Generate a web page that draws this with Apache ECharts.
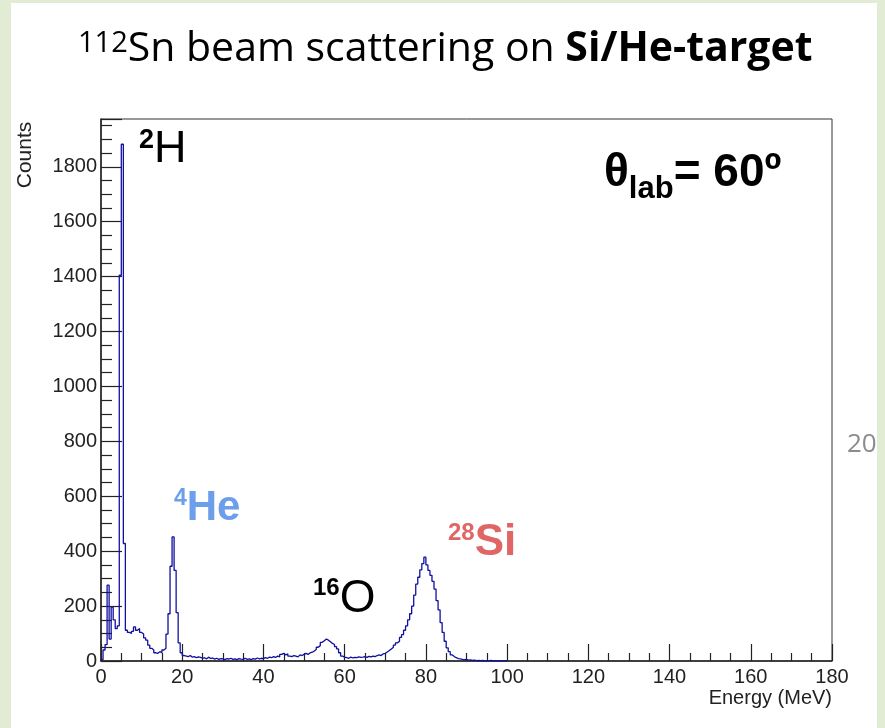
<!DOCTYPE html>
<html>
<head>
<meta charset="utf-8">
<title>112Sn beam scattering on Si/He-target</title>
<script src="https://cdn.jsdelivr.net/npm/echarts@6/dist/echarts.min.js"></script>
<style>
html, body { margin: 0; padding: 0; background: #fff; }
#chart { width: 885px; height: 728px; }
</style>
</head>
<body>
<div id="chart"></div>
<script>
// histogram, counts per 0.5 MeV bin starting at 0 MeV
const binWidth = 0.5
const counts = [
  5, 40, 60, 276, 80, 196, 150, 118, 128, 1405,          // 0 - 4.5
  1882, 428, 112, 104, 100, 108, 124, 112, 118, 104,     // 5 - 9.5
  98, 84, 76, 58, 46, 40, 30, 28, 34, 30,                // 10 - 14.5
  40, 46, 98, 172, 345, 452, 330, 176, 66, 30,           // 15 - 19.5
  20, 18, 16, 20, 14, 16, 12, 15, 13, 10,                // 20 - 24.5
  12, 8, 14, 9, 11, 7, 10, 6, 9, 8,                      // 25 - 29.5
  5, 9, 7, 10, 6, 8, 5, 9, 7, 6,                         // 30 - 34.5
  10, 6, 8, 5, 9, 7, 11, 8, 10, 9,                       // 35 - 39.5
  12, 10, 14, 12, 16, 13, 18, 15, 24, 28,                // 40 - 44.5
  22, 26, 18, 16, 20, 18, 15, 22, 20, 24,                // 45 - 49.5
  28, 24, 30, 32, 36, 42, 50, 56, 68, 74,                // 50 - 54.5
  80, 76, 70, 64, 60, 52, 44, 30, 18, 14,                // 55 - 59.5
  12, 10, 14, 11, 13, 12, 15, 13, 14, 16,                // 60 - 64.5
  13, 17, 15, 18, 16, 20, 22, 20, 26, 28,                // 65 - 69.5
  33, 38, 44, 50, 58, 66, 72, 86, 96, 112,               // 70 - 74.5
  128, 150, 172, 200, 240, 280, 305, 332, 355, 378,      // 75 - 79.5
  350, 330, 312, 290, 262, 220, 186, 140, 104, 72,       // 80 - 84.5
  48, 34, 22, 16, 12, 9, 8, 6, 5, 6,                     // 85 - 89.5
  3, 4, 2, 3, 1, 2, 1, 2, 0, 1,                          // 90 - 94.5
  0, 2, 0, 1, 0, 0, 0, 1, 0, 0                           // 95 - 99.5
]
const xRange = [0, 180]
const yRange = [0, 1974]

// step points at each bin's low edge, closed at the last upper edge
const histData = counts.map((c, i) => [i * binWidth, c])
histData.push([counts.length * binWidth, 0])

const axisColor = '#222'
const tickFont = { fontFamily: 'Liberation Sans', fontSize: 20, color: '#222' }

let myChart = echarts.init(document.getElementById('chart'))
myChart.setOption({
  backgroundColor: '#fff',
  animation: false,
  title: {
    text: '{sup|112}{n|Sn beam scattering on }{b|Si/He-target}',
    left: 78,
    top: 29,
    padding: 0,
    textStyle: {
      fontWeight: 'normal',
      rich: {
        sup: { fontFamily: 'Open Sans', fontWeight: 'normal', fontSize: 29, lineHeight: 32, verticalAlign: 'top', color: '#000' },
        n: { fontFamily: 'Open Sans', fontWeight: 'normal', fontSize: 41, lineHeight: 43, verticalAlign: 'top', color: '#000' },
        b: { fontFamily: 'Open Sans', fontWeight: 'bold', fontSize: 41, lineHeight: 43, verticalAlign: 'top', color: '#000' }
      }
    }
  },
  grid: {
    left: 101,
    top: 119,
    width: 731,
    height: 542,
    show: true,
    borderColor: '#333',
    borderWidth: 1,
    backgroundColor: 'transparent'
  },
  xAxis: {
    type: 'value',
    min: xRange[0],
    max: xRange[1],
    interval: 20,
    axisLine: { lineStyle: { color: axisColor, width: 1.5 } },
    axisTick: { inside: true, length: 17, lineStyle: { color: axisColor, width: 1.2 } },
    minorTick: { show: true, splitNumber: 4, length: 8, lineStyle: { color: axisColor, width: 1.2 } },
    axisLabel: Object.assign({ margin: 6, formatter: v => String(v) }, tickFont),
    splitLine: { show: false }
  },
  yAxis: {
    type: 'value',
    min: yRange[0],
    max: yRange[1],
    interval: 200,
    axisLine: { show: true, lineStyle: { color: axisColor, width: 1.5 } },
    axisTick: { show: true, inside: true, length: 21, lineStyle: { color: axisColor, width: 1.2 } },
    minorTick: { show: true, splitNumber: 4, length: 11, lineStyle: { color: axisColor, width: 1.2 } },
    axisLabel: Object.assign({ margin: 4, showMaxLabel: false, formatter: v => String(v) }, tickFont),
    splitLine: { show: false }
  },
  series: [
    {
      name: 'Counts',
      type: 'line',
      step: 'end',
      symbol: 'none',
      data: histData,
      lineStyle: { color: '#1010a0', width: 1.3 },
      z: 3
    }
  ],
  graphic: [
    // axis titles
    {
      type: 'text', x: 25, y: 155, rotation: Math.PI / 2,
      style: { text: 'Counts', align: 'center', verticalAlign: 'middle', fontFamily: 'Liberation Sans', fontSize: 21, fill: '#222' }
    },
    {
      type: 'text', x: 832, y: 698,
      style: { text: 'Energy (MeV)', align: 'right', verticalAlign: 'middle', fontFamily: 'Liberation Sans', fontSize: 20, fill: '#222' }
    },
    // peak labels
    {
      type: 'text', x: 139, y: 127,
      style: {
        text: '{s|2}{m|H}', verticalAlign: 'top',
        rich: {
          s: { fontFamily: 'Liberation Sans', fontWeight: 'bold', fontSize: 27, lineHeight: 30, verticalAlign: 'top', fill: '#000' },
          m: { fontFamily: 'Liberation Sans', fontSize: 45, lineHeight: 45, verticalAlign: 'top', fill: '#000' }
        }
      }
    },
    {
      type: 'text', x: 604, y: 150,
      style: {
        text: '{m|θ}{s|lab}{m|= 60º}', verticalAlign: 'top',
        rich: {
          m: { fontFamily: 'Liberation Sans', fontWeight: 'bold', fontSize: 46, lineHeight: 46, verticalAlign: 'top', fill: '#000' },
          s: { fontFamily: 'Liberation Sans', fontWeight: 'bold', fontSize: 31, lineHeight: 78, verticalAlign: 'middle', fill: '#000' }
        }
      }
    },
    {
      type: 'text', x: 174, y: 487,
      style: {
        text: '{s|4}{m|He}', verticalAlign: 'top',
        rich: {
          s: { fontFamily: 'Liberation Sans', fontWeight: 'bold', fontSize: 23, lineHeight: 25, verticalAlign: 'top', fill: '#6d9eeb' },
          m: { fontFamily: 'Liberation Sans', fontWeight: 'bold', fontSize: 42, lineHeight: 42, verticalAlign: 'top', fill: '#6d9eeb' }
        }
      }
    },
    {
      type: 'text', x: 313, y: 576,
      style: {
        text: '{s|16}{m|O}', verticalAlign: 'top',
        rich: {
          s: { fontFamily: 'Liberation Sans', fontWeight: 'bold', fontSize: 24, lineHeight: 27, verticalAlign: 'top', fill: '#000' },
          m: { fontFamily: 'Liberation Sans', fontSize: 46, lineHeight: 46, verticalAlign: 'top', fill: '#000' }
        }
      }
    },
    {
      type: 'text', x: 448, y: 521,
      style: {
        text: '{s|28}{m|Si}', verticalAlign: 'top',
        rich: {
          s: { fontFamily: 'Liberation Sans', fontWeight: 'bold', fontSize: 24, lineHeight: 28, verticalAlign: 'top', fill: '#e06666' },
          m: { fontFamily: 'Liberation Sans', fontWeight: 'bold', fontSize: 44, lineHeight: 44, verticalAlign: 'top', fill: '#e06666' }
        }
      }
    },
    // slide number and slide border
    {
      type: 'text', x: 847, y: 445, z: 10,
      style: { text: '20', verticalAlign: 'middle', fontFamily: 'Open Sans', fontSize: 26, fill: '#8c8c8c' }
    },
    { type: 'rect', z: 20, shape: { x: 0, y: 0, width: 11, height: 728 }, style: { fill: '#e2ebd3' } },
    { type: 'rect', z: 20, shape: { x: 0, y: 0, width: 885, height: 3 }, style: { fill: '#e2ebd3' } },
    { type: 'rect', z: 20, shape: { x: 877, y: 0, width: 8, height: 728 }, style: { fill: '#e2ebd3' } }
  ]
})
</script>
</body>
</html>
